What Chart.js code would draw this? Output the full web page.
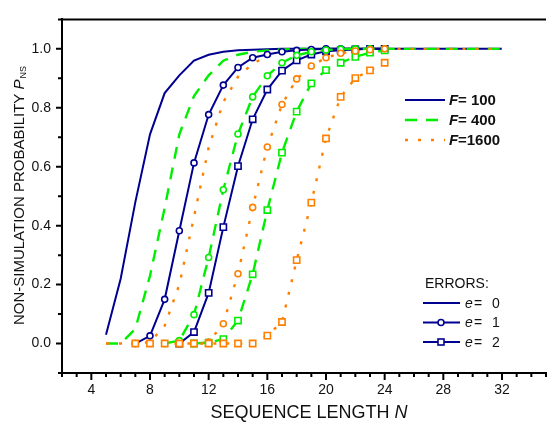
<!DOCTYPE html>
<html>
<head>
<meta charset="utf-8">
<script src="https://cdn.jsdelivr.net/npm/chart.js@4.4.0/dist/chart.umd.min.js"></script>
<style>
  html, body { margin: 0; padding: 0; background: #fff; overflow: hidden; }
</style>
</head>
<body>
<canvas id="chart" width="552" height="430"></canvas>
<script>
// Sequence lengths N
const N_E0 = [5, 6, 7, 8, 9, 10, 11, 12, 13, 14, 15, 16, 17, 18, 19, 20, 21, 22, 23, 24, 25, 26, 27, 28, 29, 30, 31, 32];
const N_F100_E1 = [7, 8, 9, 10, 11, 12, 13, 14, 15, 16, 17, 18, 19, 20, 21, 22, 23, 24];
const N_F400_E1 = [9, 10, 11, 12, 13, 14, 15, 16, 17, 18, 19, 20, 21, 22, 23, 24];
const N_F1600_E1 = [10, 11, 12, 13, 14, 15, 16, 17, 18, 19, 20, 21, 22, 23, 24];
const N_F100_E2 = [10, 11, 12, 13, 14, 15, 16, 17, 18, 19, 20, 21, 22, 23, 24];
const N_F400_E2 = [11, 12, 13, 14, 15, 16, 17, 18, 19, 20, 21, 22, 23, 24];
const N_F1600_E2 = [7, 8, 9, 10, 11, 12, 13, 14, 15, 16, 17, 18, 19, 20, 21, 22, 23, 24];

// Non-simulation probability P_NS
const P_F100_E0 = [0.03, 0.22, 0.48, 0.71, 0.85, 0.91, 0.96, 0.98, 0.99, 0.995, 0.997, 0.999, 1, 1, 1, 1, 1, 1, 1, 1, 1, 1, 1, 1, 1, 1, 1, 1];
const P_F400_E0 = [0, 0, 0.05, 0.23, 0.46, 0.71, 0.84, 0.91, 0.96, 0.98, 0.99, 0.995, 0.998, 1, 1, 1, 1, 1, 1, 1, 1, 1, 1, 1, 1, 1, 1, 1];
const P_F1600_E0 = [0, 0, 0, 0.005, 0.06, 0.2, 0.43, 0.665, 0.82, 0.905, 0.95, 0.975, 0.99, 0.995, 0.998, 1, 1, 1, 1, 1, 1, 1, 1, 1, 1, 1, 1, 1];
const P_F100_E1 = [0, 0.026, 0.15, 0.383, 0.613, 0.777, 0.877, 0.937, 0.97, 0.981, 0.99, 0.995, 0.998, 1, 1, 1, 1, 1];
const P_F400_E1 = [0, 0.01, 0.098, 0.292, 0.522, 0.711, 0.837, 0.909, 0.953, 0.978, 0.99, 0.996, 0.999, 1, 1, 1];
const P_F1600_E1 = [0, 0, 0.005, 0.067, 0.237, 0.462, 0.667, 0.811, 0.898, 0.942, 0.97, 0.985, 0.993, 0.997, 1];
const P_F100_E2 = [0, 0.039, 0.172, 0.395, 0.602, 0.761, 0.862, 0.926, 0.961, 0.981, 0.992, 0.995, 0.998, 1, 1];
const P_F400_E2 = [0, 0.003, 0.015, 0.078, 0.235, 0.453, 0.648, 0.787, 0.883, 0.928, 0.953, 0.973, 0.987, 0.995];
const P_F1600_E2 = [0, 0, 0, 0, 0, 0, 0, 0, 0, 0.027, 0.073, 0.283, 0.478, 0.696, 0.837, 0.901, 0.927, 0.953];

// Axis ticks
const X_LABELS = [4, 8, 12, 16, 20, 24, 28, 32];
const Y_LABELS = [0, 0.2, 0.4, 0.6, 0.8, 1.0];
const F_LEGEND = ['100', '400', '1600'];
const E_LEGEND = ['0', '1', '2'];

const NAVY = '#000090';
const GREEN = '#00ee00';
const ORANGE = '#ff8000';
const FONT = '"Liberation Sans", Arial, sans-serif';

const pts = (ns, ps) => ns.map((n, i) => ({ x: n, y: ps[i] }));

function series(ns, ps, color, dash, marker, order) {
  return {
    data: pts(ns, ps),
    borderColor: color,
    borderWidth: dash.length ? 2.4 : 2,
    borderDash: dash,
    pointStyle: marker || 'circle',
    pointRadius: marker === 'rect' ? 4.4 : (marker ? 3 : 0),
    pointBorderWidth: 1.6,
    pointBorderColor: color,
    pointBackgroundColor: '#fff',
    tension: 0,
    order: order
  };
}

const DASH = [12, 9];
const DOT = [3, 10];

// Ticks, frame, legends and axis titles
const overlay = {
  id: 'overlay',
  afterDraw(chart) {
    const { ctx, chartArea: a, scales: { x, y } } = chart;
    ctx.save();
    ctx.strokeStyle = '#000';
    ctx.lineWidth = 2;
    ctx.beginPath();
    ctx.moveTo(a.left - 1, a.top);
    ctx.lineTo(a.right, a.top);
    for (let n = Math.ceil(x.min); n <= x.max; n++) {
      const px = x.getPixelForValue(n);
      const len = X_LABELS.includes(n) ? 7 : 4;
      ctx.moveTo(px, a.bottom);
      ctx.lineTo(px, a.bottom + len);
    }
    for (let k = -1; k <= 11; k++) {
      const py = y.getPixelForValue(k / 10);
      const len = k % 2 === 0 ? 6 : 4;
      ctx.moveTo(a.left, py);
      ctx.lineTo(a.left - len, py);
    }
    ctx.stroke();

    // F legend
    const fColors = [NAVY, GREEN, ORANGE];
    const fDash = [[], DASH, DOT];
    F_LEGEND.forEach((f, i) => {
      const ly = 100 + i * 20;
      ctx.beginPath();
      ctx.strokeStyle = fColors[i];
      ctx.lineWidth = i === 0 ? 2 : 2.4;
      ctx.setLineDash(fDash[i]);
      ctx.moveTo(405, ly);
      ctx.lineTo(445, ly);
      ctx.stroke();
      ctx.setLineDash([]);
      ctx.fillStyle = '#111';
      ctx.textBaseline = 'middle';
      ctx.textAlign = 'left';
      ctx.font = 'italic bold 15px ' + FONT;
      ctx.fillText('F', 449, ly + 1);
      ctx.font = 'bold 15px ' + FONT;
      ctx.fillText(f.length < 4 ? '= ' + f : '=' + f, 458, ly + 1);
    });

    // Errors legend
    ctx.font = '14px ' + FONT;
    ctx.fillStyle = '#111';
    ctx.fillText('ERRORS:', 425, 284);
    E_LEGEND.forEach((e, i) => {
      const ly = 303 + i * 19.5;
      ctx.beginPath();
      ctx.strokeStyle = NAVY;
      ctx.lineWidth = 2;
      ctx.moveTo(423, ly);
      ctx.lineTo(460, ly);
      ctx.stroke();
      ctx.lineWidth = 1.6;
      ctx.fillStyle = '#fff';
      if (i === 1) {
        ctx.beginPath();
        ctx.arc(441, ly, 3, 0, Math.PI * 2);
        ctx.fill();
        ctx.stroke();
      } else if (i === 2) {
        ctx.fillRect(438, ly - 3, 6, 6);
        ctx.strokeRect(438, ly - 3, 6, 6);
      }
      ctx.fillStyle = '#111';
      ctx.font = 'italic 14px ' + FONT;
      ctx.fillText('e', 465, ly + 1);
      ctx.font = '14px ' + FONT;
      ctx.fillText('=', 474, ly + 1);
      ctx.fillText(e, 492, ly + 1);
    });

    // X title
    ctx.font = '18px ' + FONT;
    const xt1 = 'SEQUENCE LENGTH ';
    const w1 = ctx.measureText(xt1).width;
    ctx.font = 'italic 18px ' + FONT;
    const w2 = ctx.measureText('N').width;
    let sx = 309 - (w1 + w2) / 2;
    ctx.font = '18px ' + FONT;
    ctx.fillText(xt1, sx, 413);
    ctx.font = 'italic 18px ' + FONT;
    ctx.fillText('N', sx + w1, 413);

    // Y title
    ctx.translate(20, 196);
    ctx.rotate(-Math.PI / 2);
    ctx.font = '15px ' + FONT;
    const yt1 = 'NON-SIMULATION PROBABILITY ';
    const v1 = ctx.measureText(yt1).width;
    ctx.font = 'italic 15px ' + FONT;
    const v2 = ctx.measureText('P').width;
    ctx.font = '9px ' + FONT;
    const v3 = ctx.measureText('NS').width;
    let sy = -(v1 + v2 + v3) / 2;
    ctx.font = '15px ' + FONT;
    ctx.fillText(yt1, sy, 0);
    ctx.font = 'italic 15px ' + FONT;
    ctx.fillText('P', sy + v1, 0);
    ctx.font = '9px ' + FONT;
    ctx.fillText('NS', sy + v1 + v2 + 1, 4);
    ctx.restore();
  }
};

new Chart(document.getElementById('chart'), {
  type: 'line',
  data: {
    datasets: [
      series(N_E0, P_F100_E0, NAVY, [], null, 8),
      series(N_E0, P_F400_E0, GREEN, DASH, null, 7),
      series(N_E0, P_F1600_E0, ORANGE, DOT, null, 6),
      series(N_F100_E1, P_F100_E1, NAVY, [], 'circle', 5),
      series(N_F400_E1, P_F400_E1, GREEN, DASH, 'circle', 3),
      series(N_F1600_E1, P_F1600_E1, ORANGE, DOT, 'circle', 1),
      series(N_F100_E2, P_F100_E2, NAVY, [], 'rect', 4),
      series(N_F400_E2, P_F400_E2, GREEN, DASH, 'rect', 2),
      series(N_F1600_E2, P_F1600_E2, ORANGE, DOT, 'rect', 0)
    ]
  },
  options: {
    responsive: false,
    animation: false,
    devicePixelRatio: 1,
    layout: { padding: { top: 13, right: 0, left: 0, bottom: 0 } },
    plugins: { legend: { display: false }, tooltip: { enabled: false } },
    scales: {
      x: {
        type: 'linear',
        min: 2,
        max: 35,
        afterBuildTicks: s => { s.ticks = X_LABELS.map(v => ({ value: v })); },
        afterFit: s => { s.height = 57; },
        grid: { display: true, drawOnChartArea: false, drawTicks: false },
        border: { display: true, color: '#000', width: 2 },
        ticks: { padding: 9, color: '#111', font: { family: FONT, size: 14 }, maxRotation: 0 }
      },
      y: {
        min: -0.1,
        max: 1.1,
        afterBuildTicks: s => { s.ticks = Y_LABELS.map(v => ({ value: v })); },
        afterFit: s => { s.width = 62; },
        grid: { display: true, drawOnChartArea: false, drawTicks: false },
        border: { display: true, color: '#000', width: 2 },
        ticks: { padding: 11, color: '#111', font: { family: FONT, size: 14 }, callback: v => v.toFixed(1) }
      }
    }
  },
  plugins: [overlay]
});
</script>
</body>
</html>
